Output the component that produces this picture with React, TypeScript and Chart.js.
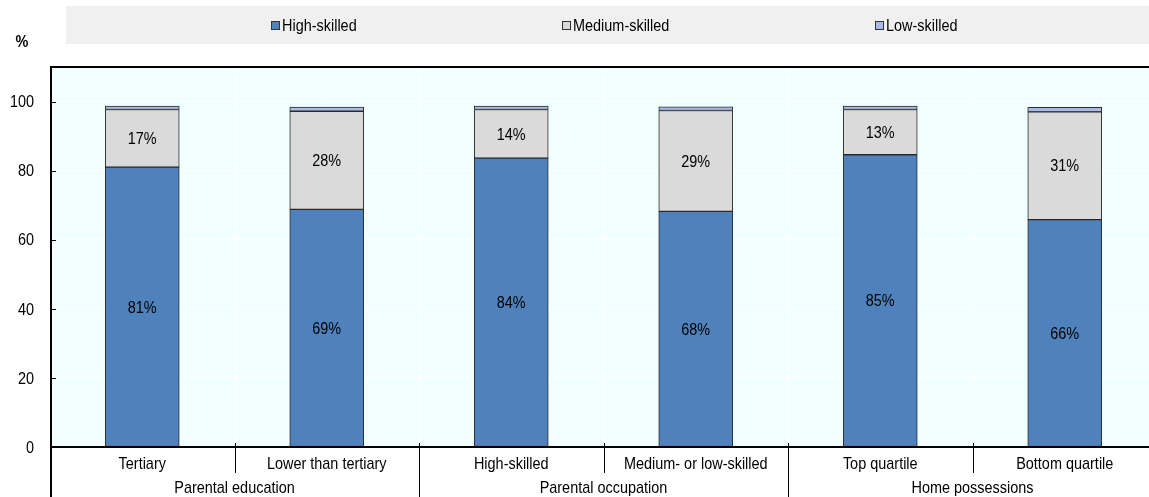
import React, { useEffect, useRef } from 'react';
import { Chart, registerables } from 'chart.js';

Chart.register(...registerables);

const categories = ['Tertiary', 'Lower than tertiary', 'High-skilled', 'Medium- or low-skilled', 'Top quartile', 'Bottom quartile'];
const groups = ['Parental education', 'Parental occupation', 'Home possessions'];
const groupSizes = [2, 2, 2];
const highSkilled = [81.0, 68.8, 83.6, 68.2, 84.6, 65.8];
const mediumSkilled = [16.7, 28.4, 14.1, 29.2, 13.1, 31.2];
const lowSkilled = [1.0, 1.2, 1.0, 1.1, 1.0, 1.3];
const seriesNames = ['High-skilled', 'Medium-skilled', 'Low-skilled'];
const seriesColors = ['#4f81bd', '#dadada', '#a9bce8'];
const yTickValues = [0, 20, 40, 60, 80, 100];
const yUnit = '%';

const FAMILY = '"Liberation Sans", Arial, sans-serif';
const SIZE = 17;
const SQUEEZE = 0.85;

export default function App() {
  const ref = useRef<HTMLCanvasElement>(null);
  useEffect(() => {
    const font = (bold = false) => `${bold ? 'bold ' : ''}${SIZE}px ${FAMILY}`;
    const txt = (ctx: CanvasRenderingContext2D, t: string, x: number, y: number, align: CanvasTextAlign) => {
      ctx.save();
      ctx.translate(x, y);
      ctx.scale(SQUEEZE, 1);
      ctx.textAlign = align;
      ctx.fillText(t, 0, 0);
      ctx.restore();
    };

    const decor = {
      id: 'decor',
      beforeDraw(chart: any) {
        const { ctx, chartArea: a } = chart;
        ctx.save();
        ctx.fillStyle = '#f2ffff';
        ctx.fillRect(a.left, a.top, a.right - a.left, a.bottom - a.top);
        ctx.fillStyle = '#f0f0f0';
        ctx.fillRect(66, 6, chart.width - 66, 38);
        ctx.restore();
      },
      beforeDatasetsDraw(chart: any) {
        const { ctx, chartArea: a } = chart;
        const xs = chart.scales.x;
        ctx.save();
        ctx.strokeStyle = '#ffffff';
        ctx.lineWidth = 1;
        for (let i = 0; i < categories.length - 1; i++) {
          const bx = Math.round((xs.getPixelForValue(i) + xs.getPixelForValue(i + 1)) / 2) + 0.5;
          ctx.beginPath();
          ctx.moveTo(bx, a.top);
          ctx.lineTo(bx, a.bottom);
          ctx.stroke();
        }
        ctx.restore();
      },
      afterDraw(chart: any) {
        const { ctx, chartArea: a } = chart;
        const xs = chart.scales.x;
        const ys = chart.scales.y;
        ctx.save();
        ctx.fillStyle = '#000';
        ctx.font = font();
        ctx.textBaseline = 'middle';
        // data labels
        [0, 1].forEach((di) => {
          const meta = chart.getDatasetMeta(di);
          const data = chart.data.datasets[di].data as number[];
          meta.data.forEach((el: any, i: number) => {
            txt(ctx, Math.round(data[i]) + '%', el.x, (el.y + el.base) / 2 + 1, 'center');
          });
        });
        // y tick labels
        yTickValues.forEach((v) => {
          txt(ctx, String(v), 34, ys.getPixelForValue(v) + 1, 'right');
        });
        // axis lines
        ctx.strokeStyle = '#000';
        ctx.lineWidth = 2;
        ctx.beginPath();
        ctx.moveTo(a.left, a.top);
        ctx.lineTo(chart.width, a.top);
        ctx.moveTo(a.left, a.bottom);
        ctx.lineTo(chart.width, a.bottom);
        ctx.moveTo(a.left + 1, a.top);
        ctx.lineTo(a.left + 1, chart.height);
        ctx.stroke();
        // y tick marks
        ctx.lineWidth = 1;
        yTickValues.forEach((v) => {
          const y = Math.round(ys.getPixelForValue(v)) + 0.5;
          ctx.beginPath();
          ctx.moveTo(a.left + 1, y);
          ctx.lineTo(a.left + 6, y);
          ctx.stroke();
        });
        // separators + group labels
        let idx = 0;
        const boundary = (i: number) => (xs.getPixelForValue(i - 1) + xs.getPixelForValue(i)) / 2;
        groups.forEach((g, gi) => {
          const start = idx;
          const end = idx + groupSizes[gi];
          for (let i = start + 1; i < end; i++) {
            const bx = Math.round(boundary(i)) + 0.5;
            ctx.beginPath();
            ctx.moveTo(bx, a.bottom - 4);
            ctx.lineTo(bx, a.bottom + 26);
            ctx.stroke();
          }
          if (end < categories.length) {
            const bx = Math.round(boundary(end)) + 0.5;
            ctx.beginPath();
            ctx.moveTo(bx, a.bottom - 4);
            ctx.lineTo(bx, chart.height);
            ctx.stroke();
          }
          const gx0 = start === 0 ? a.left : boundary(start);
          const gx1 = end >= categories.length ? a.right : boundary(end);
          txt(ctx, g, (gx0 + gx1) / 2, a.bottom + 41, 'center');
          idx = end;
        });
        // category labels
        categories.forEach((c, i) => {
          txt(ctx, c, xs.getPixelForValue(i), a.bottom + 17, 'center');
        });
        // unit label
        ctx.font = font(true);
        txt(ctx, yUnit, 22, 42, 'center');
        // legend
        ctx.font = font();
        const lx = [271, 562, 875];
        seriesNames.forEach((n, i) => {
          ctx.fillStyle = seriesColors[i];
          ctx.fillRect(lx[i], 21, 8, 8);
          ctx.strokeStyle = '#333';
          ctx.lineWidth = 1;
          ctx.strokeRect(lx[i] + 0.5, 21.5, 8, 8);
          ctx.fillStyle = '#000';
          txt(ctx, n, lx[i] + 11, 26.5, 'left');
        });
        ctx.restore();
      },
    };

    const mk = (label: string, data: number[], color: string) => ({
      label,
      data,
      backgroundColor: color,
      borderColor: '#2a2a2a',
      borderWidth: 1,
      borderSkipped: false,
      barThickness: 74,
    });

    const chart = new Chart(ref.current!, {
      type: 'bar',
      data: {
        labels: categories,
        datasets: [
          mk(seriesNames[0], highSkilled, seriesColors[0]),
          mk(seriesNames[1], mediumSkilled, seriesColors[1]),
          mk(seriesNames[2], lowSkilled, seriesColors[2]),
        ],
      },
      options: {
        responsive: false,
        animation: false,
        layout: { padding: { top: 67, left: 0, right: 0, bottom: 0 } },
        plugins: { legend: { display: false }, tooltip: { enabled: false } },
        scales: {
          x: {
            stacked: true,
            grid: { display: false },
            border: { display: false },
            ticks: { display: false },
            afterFit: (s: any) => { s.height = 50; },
          },
          y: {
            stacked: true,
            min: 0,
            max: 110,
            grid: { color: '#ffffff', lineWidth: 1, drawTicks: false },
            border: { display: false },
            ticks: { display: false, stepSize: 20 },
            afterBuildTicks: (s: any) => { s.ticks = yTickValues.map((v) => ({ value: v })); },
            afterFit: (s: any) => { s.width = 50; },
          },
        },
      },
      plugins: [decor],
    } as any);
    return () => chart.destroy();
  }, []);

  return (
    <div style={{ position: 'fixed', left: 0, top: 0, width: 1149, height: 497, overflow: 'hidden', background: '#fff' }}>
      <canvas ref={ref} width={1157} height={497} style={{ display: 'block', width: 1157, height: 497 }} />
    </div>
  );
}
